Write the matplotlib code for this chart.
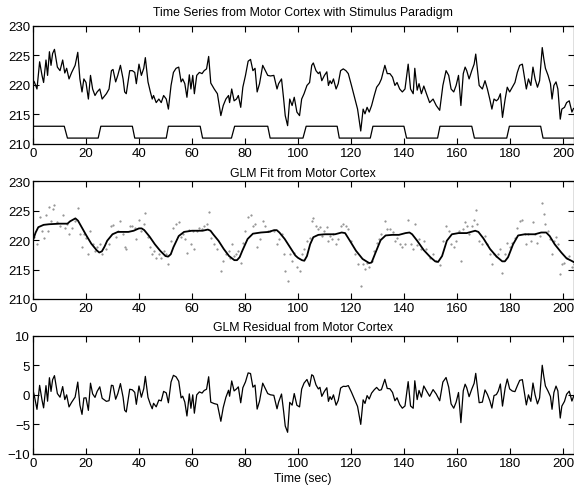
import numpy as np
import matplotlib
matplotlib.use("Agg")
import matplotlib.pyplot as plt

plt.rcParams['font.family'] = ['Liberation Sans', 'DejaVu Sans']

# ---- data ----
raw_t = [0, 0.5, 1.5, 2.5, 3.4, 4.0, 4.9, 5.5, 6.2, 6.8, 7.4, 8.1, 9.2, 10.2, 11.2, 12.0, 12.7, 13.6, 14.6,
         15.9, 16.9, 17.7, 18.5, 19.2, 20.0, 20.9, 21.7, 22.5, 23.4, 24.2, 25.2, 26.1, 27.7, 28.7, 29.6,
         30.2, 31.2, 32.0, 33.0, 34.0, 34.6, 35.2, 36.5, 37.5, 38.4, 39.0, 40.0, 40.9, 41.8, 42.4, 43.4,
         44.3, 45.0, 45.5, 46.5, 47.5, 48.4, 49.3, 50.3, 51.1, 52.1, 53.0, 54.0, 55.0, 55.9, 56.5, 57.3,
         58.1, 59.0, 59.6, 60.3, 60.9, 61.8, 62.8, 63.8, 64.6, 65.5, 66.3, 67.1, 68.4, 69.6, 70.9, 71.8,
         72.8, 73.8, 74.2, 75.0, 75.9, 76.8, 77.5, 78.4, 79.2, 80.2, 81.2, 82.1, 83.0, 83.8, 84.6, 85.5,
         86.7, 87.7, 88.6, 89.6, 90.9, 92.1, 92.7, 93.8, 94.6, 95.2, 96.1, 96.9, 97.8, 98.6, 99.6,
         100.6, 101.4, 102.3, 103.4, 104.4, 105.2, 105.8, 106.8, 107.7, 108.3, 109.0, 110.0, 110.9, 111.5,
         112.1, 112.7, 113.4, 114.4, 115.2, 116.1, 117.1, 118.1, 119.0, 120.2, 121.5, 122.5, 123.7, 124.6,
         125.3, 126.1, 126.9, 127.8, 128.8, 129.7, 130.7, 131.5, 132.8, 133.7, 134.7, 135.7, 136.6, 137.4,
         138.4, 139.4, 140.4, 141.6, 142.5, 143.5, 144.1, 145.0, 145.7, 146.6, 147.5, 148.5, 149.7, 151.0,
         152.2, 153.5, 154.7, 155.9, 156.9, 157.8, 158.8, 159.7, 160.6, 161.5, 162.4, 163.1, 163.7, 164.6,
         165.6, 166.5, 167.1, 167.7, 168.4, 169.6, 170.6, 171.5, 172.4, 173.2, 174.0, 174.9, 175.6, 176.4,
         177.2, 178.2, 179.0, 179.9, 180.9, 181.9, 182.8, 183.7, 184.7, 185.6, 186.2, 187.0, 187.9, 188.7,
         189.5, 190.4, 191.2, 192.2, 192.8, 193.4, 194.4, 195.3, 195.9, 196.6, 197.4, 198.1, 199.0, 199.6,
         200.6, 201.4, 202.4, 203.4, 204.0]
raw_v = [220.8, 220.5, 219.3, 223.9, 221.6, 220.4, 224.2, 221.6, 225.6, 223.3, 225.3, 226.0, 223.0, 222.4,
         224.2, 222.0, 222.8, 221.0, 222.1, 223.3, 225.5, 221.0, 218.8, 221.0, 220.4, 217.6, 221.6, 219.3,
         218.2, 218.8, 219.3, 217.6, 218.5, 219.3, 222.4, 222.6, 220.5, 221.6, 223.3, 221.0, 218.8, 218.5,
         222.4, 222.4, 222.1, 220.2, 223.5, 221.6, 222.8, 224.6, 220.5, 218.8, 217.6, 218.2, 217.0, 217.6,
         217.0, 218.2, 217.6, 215.9, 219.9, 222.1, 222.8, 223.0, 220.5, 221.0, 220.2, 217.9, 221.7, 219.3,
         221.6, 218.5, 221.6, 222.1, 221.9, 222.4, 222.7, 224.8, 220.3, 219.3, 218.5, 214.8, 216.5, 217.6,
         218.2, 217.0, 219.3, 217.3, 217.6, 218.2, 216.2, 219.6, 221.6, 224.0, 224.3, 222.4, 222.8, 218.8,
         220.2, 223.3, 222.4, 221.6, 221.5, 221.6, 219.3, 220.2, 221.0, 217.6, 214.8, 213.1, 217.6, 216.5,
         217.9, 215.4, 214.8, 217.6, 218.5, 219.9, 220.4, 223.3, 223.7, 222.4, 221.9, 222.2, 220.7, 221.6,
         222.2, 219.9, 220.7, 220.2, 221.0, 219.3, 220.2, 222.4, 222.7, 222.4, 221.9, 219.9, 217.6, 215.9,
         212.2, 215.9, 215.1, 216.2, 215.4, 216.5, 218.2, 219.6, 220.2, 221.0, 223.3, 221.9, 221.9, 221.3,
         219.9, 220.4, 219.3, 218.8, 219.3, 223.5, 219.3, 218.5, 222.8, 219.1, 220.2, 218.5, 219.8, 218.5,
         217.0, 217.6, 216.5, 215.7, 219.9, 222.4, 221.6, 219.3, 218.8, 219.9, 221.6, 216.5, 221.9, 223.0,
         222.4, 221.0, 222.4, 223.5, 225.2, 222.8, 219.9, 219.3, 220.7, 219.3, 217.6, 215.9, 217.6, 217.3,
         217.6, 218.5, 214.5, 217.6, 219.6, 218.8, 219.6, 220.4, 222.1, 223.3, 223.5, 221.0, 219.3, 221.0,
         219.9, 223.0, 221.0, 219.6, 220.7, 226.3, 224.4, 222.8, 221.6, 220.2, 217.6, 219.9, 220.5, 219.3,
         214.2, 215.9, 216.2, 217.0, 217.3, 215.4, 216.0]

fit_t = [0, 1, 2, 4, 6, 10, 13, 14, 16, 17, 18, 20, 22, 24, 25, 26, 27, 28, 30, 32, 36, 38, 40, 41, 42,
         44, 46, 48, 50, 51, 52, 53, 55, 57, 60, 64, 66, 67, 68, 70, 72, 74, 76, 77, 78, 79, 81, 83, 86,
         89, 91, 92, 93, 95, 97, 99, 100, 101.5, 102.4, 103.4, 104.6, 105.8, 107.7, 110.2, 114.0, 116.5,
         117.8, 119.6, 121.9, 124.4, 126.9, 127.8, 129.3, 131.2, 133.1, 135.6, 138.1, 140.6, 142.1, 143.1,
         145.0, 147.5, 150.0, 151.8, 152.9, 154.4, 156.2, 158.1, 160.6, 163.7, 166.9, 168.1, 170.0, 172.5,
         175.0, 177.1, 178.1, 179.3, 181.2, 183.1, 185.6, 189.4, 191.8, 193.7, 195.0, 196.9, 199.4, 201.4,
         203.2, 204]
fit_v = [220.0, 221.3, 222.2, 222.6, 222.7, 222.8, 222.8, 223.2, 223.7, 223.3, 222.5, 220.9, 219.4, 218.3,
         217.9, 218.1, 218.9, 219.9, 221.0, 221.4, 221.4, 221.6, 222.0, 222.0, 221.7, 220.6, 219.3, 218.2,
         217.3, 217.2, 217.6, 218.8, 220.7, 221.4, 221.6, 221.6, 221.8, 221.6, 221.0, 219.9, 218.5, 217.3,
         216.6, 216.6, 217.1, 218.2, 220.2, 221.1, 221.3, 221.4, 221.7, 221.7, 221.3, 220.2, 218.8, 217.4,
         217.0, 216.6, 216.5, 217.3, 219.3, 220.5, 220.9, 221.0, 221.0, 221.3, 221.2, 219.9, 218.2, 216.8,
         216.1, 216.2, 217.9, 220.0, 220.8, 220.9, 220.9, 221.2, 221.3, 221.0, 219.9, 218.3, 217.1, 216.4,
         216.3, 217.3, 219.9, 221.0, 221.2, 221.2, 221.6, 221.4, 220.3, 218.5, 217.2, 216.4, 216.4, 217.1,
         219.3, 220.8, 221.0, 221.0, 221.3, 221.3, 220.7, 219.3, 217.9, 216.9, 216.5, 216.3]

stim_t = [0, 11.8, 13.0, 24.6, 25.6, 37.5, 38.4, 50.3, 51.1, 63.1, 64.0, 74.9, 76.1, 88.6, 89.5, 101.9,
          103.1, 114.8, 115.6, 127.3, 128.3, 140.0, 141.0, 152.7, 153.6, 165.6, 166.6, 178.8, 179.8,
          191.6, 192.5, 204]
stim_v = [213, 213, 211, 211, 213, 213, 211, 211, 213, 213, 211, 211, 213, 213, 211, 211,
          213, 213, 211, 211, 213, 213, 211, 211, 213, 213, 211, 211, 213, 213, 211, 211]

titles = ["Time Series from Motor Cortex with Stimulus Paradigm",
          "GLM Fit from Motor Cortex",
          "GLM Residual from Motor Cortex"]
xticks = list(range(0, 201, 20))

raw_t = np.array(raw_t); raw_v = np.array(raw_v)
resid = raw_v - np.interp(raw_t, fit_t, fit_v)

W, H = 574, 489
fig = plt.figure(figsize=(W / 100, H / 100), dpi=100)

def make_ax(top_px, bot_px):
    left, right = 33, 573.5
    return fig.add_axes([left / W, 1 - bot_px / H, (right - left) / W, (bot_px - top_px) / H])

ax1 = make_ax(26.7, 145)
ax2 = make_ax(182.3, 300)
ax3 = make_ax(336.7, 455)

lw = 0.9
ax1.plot(raw_t, raw_v, color='black', lw=lw)
ax1.plot(stim_t, stim_v, color='black', lw=lw)
ax1.set_ylim(210, 230)
ax1.set_yticks([210, 215, 220, 225, 230])

ax2.plot(raw_t, raw_v, linestyle='none', marker='.', markersize=1.1, color='#888888')
ax2.plot(fit_t, fit_v, color='black', lw=1.3)
ax2.set_ylim(210, 230)
ax2.set_yticks([210, 215, 220, 225, 230])

ax3.plot(raw_t, resid, color='black', lw=lw)
ax3.set_ylim(-10, 10)
ax3.set_yticks([-10, -5, 0, 5, 10])
ax3.set_xlabel("Time (sec)", fontsize=8.8, labelpad=2)

pads = [8, 4, 4]
for ax, ttl, pd in zip((ax1, ax2, ax3), titles, pads):
    ax.set_xlim(0, 204)
    ax.set_xticks(xticks)
    ax.tick_params(direction='in', length=4, width=0.8, top=True, right=True,
                   labelsize=9.5, pad=2)
    for s in ax.spines.values():
        s.set_linewidth(0.9)
    ax.set_title(ttl, fontsize=8.8, pad=pd)

fig.savefig("out.png", dpi=100)
